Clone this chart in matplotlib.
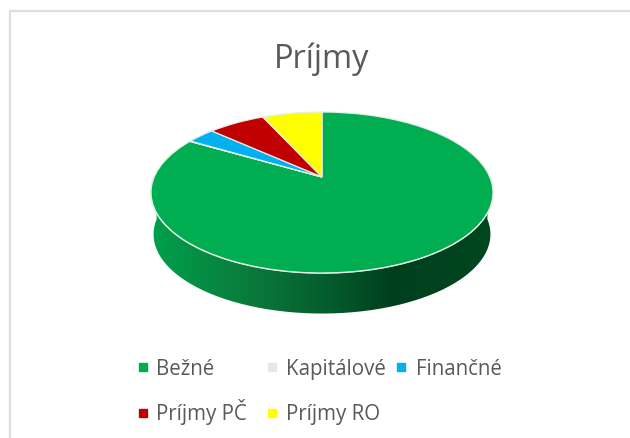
import numpy as np
import matplotlib
matplotlib.use("Agg")
import matplotlib.pyplot as plt
from matplotlib.path import Path
from matplotlib.patches import PathPatch
from matplotlib.transforms import Transform
from matplotlib.colors import LinearSegmentedColormap

title = "Príjmy"
categories = ["Bežné", "Kapitálové", "Finančné", "Príjmy PČ", "Príjmy RO"]
values = [83.4, 0.1, 3.2, 6.5, 6.8]
colors = ["#00AD50", "#E7E7E7", "#00B0F0", "#C00000", "#FFFF00"]

W, H = 630, 439
CX, CY = 322.0, 178.0
PC, PB, PK = 0.1925, 77.5, 167.8
DEPTH = 42.0
TEXT = "#595959"
FONT = "Open Sans"


class Perspective(Transform):
    input_dims = output_dims = 2

    def __init__(self, dy=0.0, scale=1.0):
        super().__init__()
        self.dy, self.scale = dy, scale

    def transform_non_affine(self, values):
        u, v = values[:, 0], values[:, 1]
        d = 1 + PC * v
        return np.column_stack((CX + self.scale * PK * u / d,
                                CY + self.dy - self.scale * PB * v / d))

    def transform_path_non_affine(self, path):
        return Path(self.transform_non_affine(path.vertices), path.codes)


fig = plt.figure(figsize=(W / 100, H / 100), dpi=100, facecolor="white")
ax = fig.add_axes([0, 0, 1, 1])

wedges, _ = ax.pie(values, colors=colors, startangle=90, counterclock=False,
                   wedgeprops=dict(edgecolor="#E4EFE8", linewidth=0.9))
ax.set_aspect("auto")
ax.set_xlim(0, W)
ax.set_ylim(H, 0)
ax.axis("off")
for w in wedges:
    w.set_transform(Perspective() + ax.transData)
    w.set_zorder(3)

# side wall of the disc
t = np.linspace(np.pi, 2 * np.pi, 200)
circle = np.column_stack((np.cos(t), np.sin(t)))
top = Perspective().transform_non_affine(circle)
bottom = Perspective(DEPTH, 0.985).transform_non_affine(circle)
outline = np.vstack((top, bottom[::-1], top[:1]))
clip = PathPatch(Path(outline), transform=ax.transData, fc="none", ec="none")
ax.add_patch(clip)
cmap = LinearSegmentedColormap.from_list("wall", [
    (0.00, "#00A04C"), (0.29, "#0A7A3B"), (0.49, "#05602F"),
    (0.71, "#003F1E"), (1.00, "#00471F")])
img = ax.imshow(np.linspace(0, 1, 256)[None, :], cmap=cmap, aspect="auto",
                extent=(151, 493, 320, 190), zorder=1)
ax.set_xlim(0, W)
ax.set_ylim(H, 0)
img.set_clip_path(clip)

# white rim along the front edge
ax.plot(top[:, 0], top[:, 1], color="#E4EFE8", lw=1.2, zorder=2.5)

# chart frame
ax.plot([10, 10, W], [H, 12, 12], color="#DEDEDE", lw=1.6, zorder=0)

ax.text(322, 68, title, color=TEXT, fontsize=23.5, family=FONT, ha="center", va="baseline")

# legend
sq_x = [143, 272, 401, 143, 272]
txt_x = [156, 286, 416, 156, 286]
row_y = [368, 368, 368, 414, 414]
base_y = [375, 375, 375, 420, 420]
for c, col, sx, tx, y, by in zip(categories, colors, sq_x, txt_x, row_y, base_y):
    ax.plot([sx], [y], ls="none", marker="s", ms=5.8, mfc=col, mec=col, zorder=3)
    ax.text(tx, by, c, color=TEXT, fontsize=14.8, family=FONT, ha="left", va="baseline")

fig.savefig("out.png", dpi=100, facecolor="white")
